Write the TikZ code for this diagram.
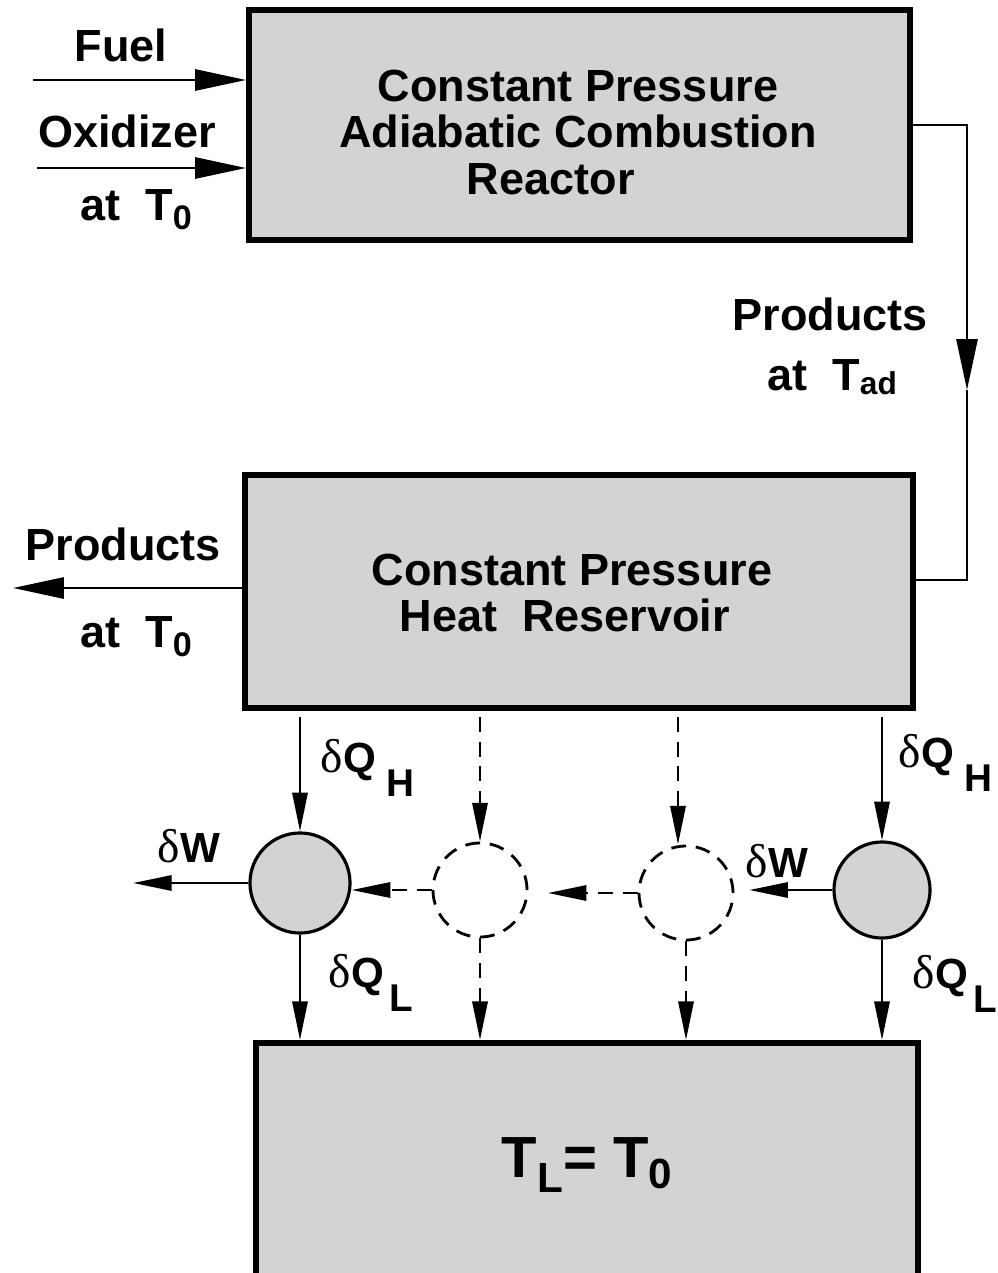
\documentclass[tikz,border=0pt]{standalone}
\usepackage{graphicx}
\usepackage{fontspec}
\setmainfont{Liberation Sans}
\newfontfamily\grk{Liberation Serif}
\usetikzlibrary{arrows.meta}
\definecolor{boxgray}{HTML}{D3D3D3}
\newcommand\lsub[3]{\raisebox{-#1}{\fontsize{#2}{#2}\selectfont #3}}
\newcommand\dlab[1]{{\grk\mdseries\fontsize{13.5}{14}\selectfont δ}{\fontsize{12}{14}\selectfont\bfseries #1}}
\begin{document}
\begin{tikzpicture}[x=0.01cm,y=-0.01cm,
  box/.style={draw, line width=1.6pt, fill=boxgray, inner sep=0pt},
  boxtext/.style={inner sep=0pt, align=center, font=\fontsize{12.8}{13.1}\selectfont\bfseries},
  lab/.style={inner sep=0pt, font=\fontsize{12.8}{15}\selectfont\bfseries},
  eng/.style={circle, draw, line width=0.9pt, fill=boxgray, inner sep=0pt, minimum size=1cm},
  ghost/.style={circle, draw, line width=0.8pt, dash pattern=on 4.2pt off 2.8pt, inner sep=0pt, minimum size=0.94cm},
  flow/.style={line width=0.75pt},
  dsh/.style={line width=0.8pt, dash pattern=on 4.2pt off 2.8pt},
  big/.style={-{Triangle[length=14.5pt,width=6pt]}},
  sm/.style={-{Triangle[length=11pt,width=4.3pt]}}]
\useasboundingbox (0,0) rectangle (997,1273);
\clip (0,0) rectangle (997,1273);

% boxes
\node[box, minimum width=6.61cm, minimum height=2.30cm] (top) at (579.5,125) {};
\node[boxtext] (toptxt) at (578,132.5) {Constant Pressure\\Adiabatic Combustion\\Reactor\rule{15.5pt}{0pt}};
\node[box, minimum width=6.68cm, minimum height=2.33cm] (mid) at (579,591.5) {};
\node[boxtext] (midtxt) at (572,593) {Constant Pressure\\Heat\hspace{0.55em}Reservoir\rule{4pt}{0pt}};
\node[box, minimum width=6.62cm, minimum height=2.44cm, font=\fontsize{16.5}{18}\selectfont\bfseries] (bot) at (587,1165)
  {T\lsub{4pt}{12}{L}= T\lsub{3pt}{12}{0}};

% engines
\node[eng] (c1) at (300,883) {};
\node[ghost] (c2) at (480,890) {};
\node[ghost] (c3) at (686,893) {};
\node[eng, minimum size=0.96cm] (c4) at (882,890) {};

% inlet streams
\coordinate (fu) at (33,80);
\coordinate (ox) at (37,168);
\draw[flow, big] (fu) -- (fu -| top.west);
\draw[flow, big] (ox) -- (ox -| top.west);
\node[lab, anchor=base] (fuel) at (121,62) {Fuel};
\node[lab, anchor=base] (oxid) at (127,147) {Oxidizer};
\node[lab, anchor=base west] (atTa) at (80,220) {at\hspace{0.55em}T\lsub{2.8pt}{9.7}{0}};

% products loop
\coordinate (lp1) at (967,125);
\coordinate (lp2) at (967,390);
\coordinate (lp3) at (967,580);
\draw[flow, big] (top.east |- lp1) -- (lp1) -- (lp2);
\draw[flow] (lp2) -- (lp3) -- (lp3 -| mid.east);
\node[lab, anchor=base west] (prodR) at (732,330) {Products};
\node[lab, anchor=base west] (atTad) at (767,390) {at\hspace{0.55em}T\lsub{1.4pt}{9}{ad}};

% products out
\coordinate (pl) at (13,588);
\draw[flow, big] (pl -| mid.west) -- (pl);
\node[lab, anchor=base west] (prodL) at (25,560) {Products};
\node[lab, anchor=base west] (atTb) at (80,647) {at\hspace{0.55em}T\lsub{2.8pt}{9.7}{0}};

% heat in
\draw[flow, sm, shorten <=1.8pt] (c1.north |- mid.south) -- (c1.north);
\draw[dsh, sm, shorten <=1.8pt] (c2.north |- mid.south) -- (c2.north);
\draw[dsh, sm, shorten <=1.8pt] ([xshift=-0.08cm]c3.north |- mid.south) -- ([xshift=-0.08cm]c3.north);
\draw[flow, sm, shorten <=1.8pt] (c4.north |- mid.south) -- (c4.north);

% heat out
\draw[flow, sm] (c1.south) -- (c1.south |- bot.north);
\draw[dsh, sm] (c2.south) -- (c2.south |- bot.north);
\draw[dsh, sm] (c3.south) -- (c3.south |- bot.north);
\draw[flow, sm] (c4.south) -- (c4.south |- bot.north);

% work
\coordinate (w1) at (133,883);
\draw[flow, sm] (c1.west) -- (w1);
\draw[dsh, sm] (c2.west) -- (c2.west -| c1.east);
\draw[dsh, sm, shorten >=5.5pt] (c3.west) -- (c3.west -| c2.east);
\draw[flow, sm, shorten >=4.2pt] (c4.west) -- (c4.west -| c3.east);

% labels
\node[lab, anchor=base west] (qhL) at (320,772) {\dlab{Q}\hspace{3pt}\lsub{7pt}{11}{H}};
\node[lab, anchor=base west] (qlL) at (328,987) {\dlab{Q}\hspace{1.5pt}\lsub{7pt}{11}{L}};
\node[lab, anchor=base west] (wL) at (157,862) {\dlab{W}};
\node[lab, anchor=base west] (qhR) at (898,767) {\dlab{Q}\hspace{3pt}\lsub{7pt}{11}{H}};
\node[lab, anchor=base west] (qlR) at (912,988) {\dlab{Q}\hspace{1.5pt}\lsub{7pt}{11}{L}};
\node[lab, anchor=base west] (wR) at (745,877) {\dlab{W}};
\end{tikzpicture}
\end{document}
